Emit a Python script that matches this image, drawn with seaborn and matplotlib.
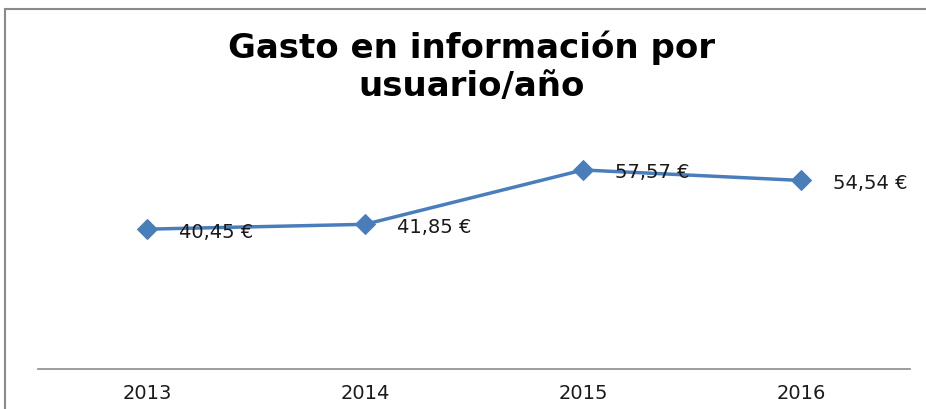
import matplotlib
matplotlib.use("Agg")
import matplotlib.pyplot as plt
import seaborn as sns
import pandas as pd
from matplotlib.patches import Rectangle

years = ["2013", "2014", "2015", "2016"]
values = [40.45, 41.85, 57.57, 54.54]
labels = ["40,45 €", "41,85 €", "57,57 €", "54,54 €"]
title = "Gasto en información por\nusuario/año"

sns.set_theme(style="white")
plt.rcParams['font.family'] = ['DejaVu Sans']

W, H = 926, 410
fig = plt.figure(figsize=(W / 100, H / 100), dpi=100)
ax = fig.add_axes([38 / W, 1 - 370 / H, (910 - 38) / W, (370 - 128) / H])

df = pd.DataFrame({"year": years, "value": values})
color = "#4A7EBB"
sns.lineplot(data=df, x="year", y="value", ax=ax, color=color, lw=2.5,
             marker="D", markersize=10, markeredgecolor=color, sort=False)

for i, (v, lab) in enumerate(zip(values, labels)):
    ax.annotate(lab, (i, v), xytext=(32, -2), textcoords="offset pixels",
                ha="left", va="center", fontsize=14, color="#1a1a1a")

ax.set_xlim(-0.5, 3.5)
ax.set_ylim(0, 70)
ax.set_yticks([])
ax.set_xlabel("")
ax.set_ylabel("")
for s in ["left", "right", "top"]:
    ax.spines[s].set_visible(False)
ax.spines["bottom"].set_color("#8c8c8c")
ax.spines["bottom"].set_linewidth(1.2)
ax.tick_params(axis="x", length=0, pad=10, labelsize=14, labelcolor="#1a1a1a")

fig.text(472 / W, 1 - 67 / H, title, ha="center", va="center", fontsize=24.5,
         fontweight="bold", color="black", linespacing=1.2)

fig.add_artist(Rectangle((5 / W, -0.1), 1.2, 1 - 10 / H + 0.1, transform=fig.transFigure,
                         fill=False, ec="#8a8a8a", lw=1.5))

fig.savefig("out.png", dpi=100, facecolor="white")
